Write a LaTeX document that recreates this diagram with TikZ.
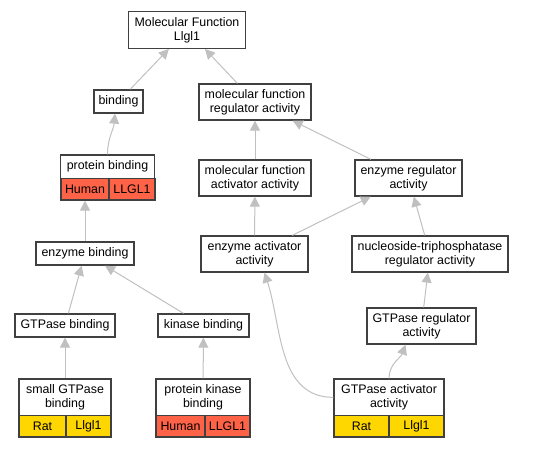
\documentclass[tikz,border=0pt]{standalone}
\usepackage{fontspec}
\setmainfont{Liberation Sans}
\usepackage{tikz}
\usetikzlibrary{arrows.meta}
\definecolor{human}{HTML}{FF6347}
\definecolor{rat}{HTML}{FFD700}
\definecolor{edgegray}{HTML}{C0C0C0}
\definecolor{boxline}{HTML}{404040}

\begin{document}
\begin{tikzpicture}[x=1pt,y=-1pt,
  box/.style={draw=boxline, line width=1.3pt, fill=white, inner sep=0pt, align=center,
    font=\fontsize{12.4}{13.6}\selectfont},
  tag/.style={box, font=\fontsize{12.4}{13.6}\selectfont},
  edge/.style={draw=edgegray, line width=1pt, -{Triangle[length=10pt,width=10pt,fill=edgegray]}}]
\useasboundingbox (0,0) rectangle (540,448);
\node[box, minimum width=117pt, minimum height=36.6pt] (mf) at (187,30) {Molecular Function\\Llgl1};
\node[box, minimum width=49pt, minimum height=23pt] (bind) at (118.5,101.5) {binding};
\node[box, minimum width=112pt, minimum height=36pt] (mfra) at (255,102) {molecular function\\regulator activity};
\node[box, minimum width=94pt, minimum height=23.5pt] (pb) at (107.5,166.75) {protein binding};
\node[tag, fill=human, minimum width=48pt, minimum height=21.5pt] (pbH) at (85,189.25) {Human};
\node[tag, fill=human, minimum width=46pt, minimum height=21.5pt] (pbL) at (132,189.25) {LLGL1};
\node[box, minimum width=112pt, minimum height=36pt] (mfaa) at (255,178) {molecular function\\activator activity};
\node[box, minimum width=107pt, minimum height=36pt] (era) at (408.5,178) {enzyme regulator\\activity};
\node[box, minimum width=98pt, minimum height=23pt] (eb) at (85,253.5) {enzyme binding};
\node[box, minimum width=107pt, minimum height=36pt] (eaa) at (254.5,254) {enzyme activator\\activity};
\node[box, minimum width=156pt, minimum height=36pt] (ntra) at (430,254) {nucleoside-triphosphatase\\regulator activity};
\node[box, minimum width=100pt, minimum height=23pt] (gb) at (65,325.5) {GTPase binding};
\node[box, minimum width=91pt, minimum height=23pt] (kb) at (203.5,325.5) {kinase binding};
\node[box, minimum width=109pt, minimum height=36pt] (gr) at (421.5,326) {GTPase regulator\\activity};
\node[box, minimum width=92pt, minimum height=36.7pt] (sgb) at (65,397.35) {small GTPase\\binding};
\node[tag, fill=rat, minimum width=47pt, minimum height=21.3pt] (sgbR) at (42.5,426.35) {Rat};
\node[tag, fill=rat, minimum width=45pt, minimum height=21.3pt] (sgbL) at (88.5,426.35) {Llgl1};
\node[box, minimum width=94pt, minimum height=36.7pt] (pkb) at (203,397.35) {protein kinase\\binding};
\node[tag, fill=human, minimum width=49pt, minimum height=21.3pt] (pkbH) at (180.5,426.35) {Human};
\node[tag, fill=human, minimum width=45pt, minimum height=21.3pt] (pkbL) at (227.5,426.35) {LLGL1};
\node[box, minimum width=110pt, minimum height=36.7pt] (gaa) at (389,397.35) {GTPase activator\\activity};
\node[tag, fill=rat, minimum width=55pt, minimum height=21.3pt] (gaaR) at (361.5,426.35) {Rat};
\node[tag, fill=rat, minimum width=55pt, minimum height=21.3pt] (gaaL) at (416.5,426.35) {Llgl1};
\draw[edge] (bind) -- (mf);
\draw[edge] (mfra) -- (mf);
\draw[edge] (pb.north) to[out=90,in=-95] ([xshift=-3.5pt]bind.south);
\draw[edge] (mfaa) -- (mfra);
\draw[edge] (era) -- (mfra);
\draw[edge] (eb.north) -- (eb.north |- pbH.south);
\draw[edge] (eaa) -- (mfaa);
\draw[edge] (eaa) -- (era);
\draw[edge] (ntra) -- (era);
\draw[edge] (gb) -- (eb);
\draw[edge] (kb) -- (eb);
\draw[edge] (gr) -- (ntra);
\draw[edge] (sgb) -- (gb);
\draw[edge] (pkb) -- (kb);
\draw[edge] (gaa.west) to[out=180,in=-72] ([xshift=10pt]eaa.south);
\draw[edge] (gaa.north) to[out=90,in=-110] ([xshift=-16pt]gr.south);
\end{tikzpicture}
\end{document}
